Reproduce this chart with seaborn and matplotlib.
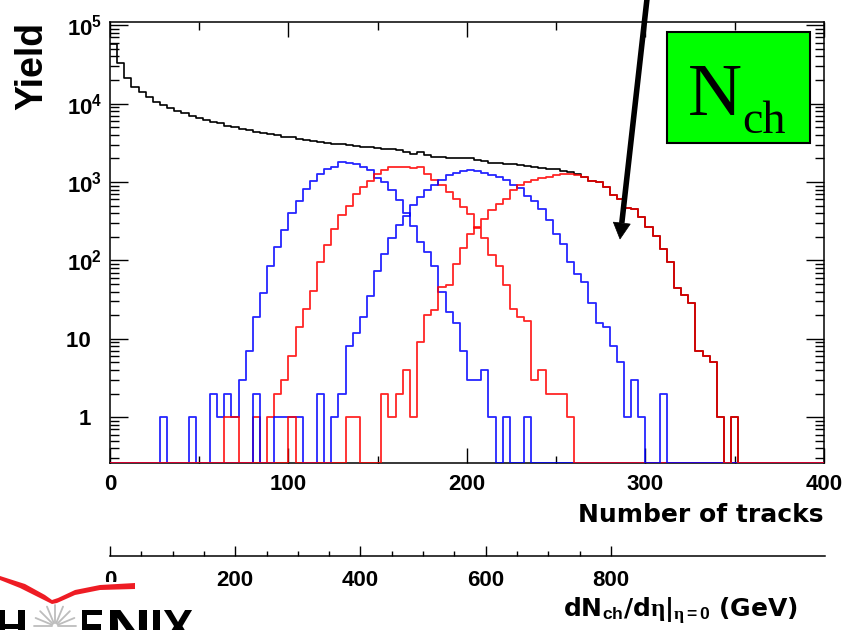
import numpy as np
import pandas as pd
import matplotlib
matplotlib.use("Agg")
import matplotlib.pyplot as plt
import seaborn as sns
from matplotlib.ticker import FixedLocator, FixedFormatter, NullFormatter, LogLocator
from matplotlib.patches import Rectangle, Polygon, PathPatch
from matplotlib.textpath import TextPath
from matplotlib.font_manager import FontProperties
from matplotlib.transforms import Affine2D

# ---------------- data ----------------
bin_edges = list(np.linspace(0, 400, 101))   # 100 bins, width 4 tracks

black_total = [57600, 32600, 21000, 16400, 14200, 12200, 10500, 9570, 8700, 8100,
               7500, 6900, 6460, 6160, 5870, 5600, 5160, 4970, 4770, 4580,
               4360, 4170, 4050, 3930, 3770, 3770, 3520, 3400, 3300, 3200,
               3150, 3080, 3040, 2980, 2890, 2800, 2760, 2680, 2650, 2620,
               2530, 2390, 2280, 2390, 2200, 2110, 2070, 2030, 2030, 1995,
               2010, 1930, 1840, 1770, 1750, 1720, 1690, 1640, 1600, 1550,
               1510, 1470, 1445, 1400, 1350, 1260, 1170, 1033, 1000, 865,
               678, 603, 472, 450, 358, 267, 203, 141, 95, 44,
               36, 29, 7, 6, 5, 1, 0, 1, 0, 0,
               0, 0, 0, 0, 0, 0, 0, 0, 0, 0]

blue_1 = [0, 0, 0, 0, 0, 0, 0, 1, 0, 0,
          0, 1, 0, 0, 2, 1, 2, 1, 3, 7,
          19, 38, 84, 148, 242, 408, 569, 809, 1024, 1247,
          1456, 1565, 1774, 1760, 1722, 1565, 1415, 1141, 1000, 786,
          586, 408, 272, 172, 128, 86, 40, 22, 16, 7,
          3, 3, 4, 1, 0, 1, 0, 0, 1, 0,
          0, 0, 0, 0, 0, 0, 0, 0, 0, 0,
          0, 0, 0, 0, 0, 0, 0, 0, 0, 0,
          0, 0, 0, 0, 0, 0, 0, 0, 0, 0,
          0, 0, 0, 0, 0, 0, 0, 0, 0, 0]

red_2 = [0, 0, 0, 0, 0, 0, 0, 0, 0, 0,
         0, 0, 0, 0, 0, 0, 1, 1, 0, 0,
         1, 0, 1, 2, 3, 6, 14, 24, 41, 95,
         159, 250, 377, 490, 713, 865, 1024, 1283, 1414, 1560,
         1560, 1560, 1487, 1560, 1259, 1055, 910, 735, 615, 482,
         396, 262, 193, 116, 86, 48, 24, 19, 17, 3,
         4, 2, 2, 2, 1, 0, 0, 0, 0, 0,
         0, 0, 0, 0, 0, 0, 0, 0, 0, 0,
         0, 0, 0, 0, 0, 0, 0, 0, 0, 0,
         0, 0, 0, 0, 0, 0, 0, 0, 0, 0]

blue_3 = [0, 0, 0, 0, 0, 0, 0, 0, 0, 0,
          0, 0, 0, 0, 0, 0, 0, 0, 0, 0,
          2, 0, 0, 1, 1, 1, 1, 0, 0, 2,
          0, 1, 2, 8, 12, 19, 35, 73, 120, 195,
          281, 366, 516, 646, 786, 910, 1055, 1222, 1307, 1380,
          1414, 1390, 1300, 1245, 1162, 1055, 910, 850, 670, 570,
          450, 325, 220, 164, 95, 68, 53, 29, 16, 14,
          8, 5, 1, 3, 1, 0, 0, 2, 0, 0,
          0, 0, 0, 0, 0, 0, 0, 0, 0, 0,
          0, 0, 0, 0, 0, 0, 0, 0, 0, 0]

red_4 = [0, 0, 0, 0, 0, 0, 0, 0, 0, 0,
         0, 0, 0, 0, 0, 0, 0, 0, 0, 0,
         0, 0, 0, 0, 0, 1, 0, 0, 0, 0,
         0, 0, 0, 1, 1, 0, 0, 0, 2, 1,
         2, 4, 1, 9, 20, 23, 46, 48, 91, 144,
         220, 265, 342, 437, 531, 615, 786, 910, 1000, 1055,
         1109, 1162, 1222, 1283, 1283, 1245, 1162, 1033, 1000, 865,
         678, 603, 472, 450, 358, 267, 203, 141, 95, 44,
         36, 29, 7, 6, 5, 1, 0, 1, 0, 0,
         0, 0, 0, 0, 0, 0, 0, 0, 0, 0]

x_ticks = [0, 100, 200, 300, 400]
x_minor = [50, 150, 250, 350]
y_ticks = [1, 10, 100, 1000, 10000, 100000]
y_ticklabels = ['1\u2002', '10\u2002', r'$\mathbf{10^{2}}$', r'$\mathbf{10^{3}}$',
                r'$\mathbf{10^{4}}$', r'$\mathbf{10^{5}}$']
dn_ticks = [0, 200, 400, 600, 800]
dn_minor = [50, 100, 150, 250, 300, 350, 450, 500, 550, 650, 700, 750]

# ---------------- style ----------------
sns.set_theme(style="ticks")
plt.rcParams['font.family'] = ['Liberation Sans', 'DejaVu Sans']
plt.rcParams['font.weight'] = 'bold'
plt.rcParams['mathtext.fontset'] = 'custom'
plt.rcParams['mathtext.rm'] = 'Liberation Serif'
plt.rcParams['mathtext.it'] = 'Liberation Serif:italic'
plt.rcParams['mathtext.bf'] = 'Liberation Sans:bold'
for k in ['axes.edgecolor', 'xtick.color', 'ytick.color', 'text.color', 'axes.labelcolor']:
    plt.rcParams[k] = 'black'

W, H = 845, 630
fig = plt.figure(figsize=(W / 100, H / 100), dpi=100)
fig.patch.set_facecolor('white')
ax = fig.add_axes([110 / W, 1 - 463 / H, 714 / W, (463 - 22) / H])
ax.set_facecolor('white')

YMIN, YMAX = 0.26, 1.1e5
edges_arr = np.asarray(bin_edges)
centers = (edges_arr[:-1] + edges_arr[1:]) / 2


def draw(vals, color, alpha, lw, z):
    v = np.asarray(vals, dtype=float)
    v = np.where(v > 0, v, YMIN)
    df = pd.DataFrame({'tracks': centers, 'yield': v})
    sns.histplot(data=df, x='tracks', weights='yield', bins=bin_edges, element='step',
                 fill=False, color=color, alpha=alpha, linewidth=lw, ax=ax, zorder=z)


draw(black_total, 'black', 1.0, 1.2, 2)
draw(blue_1, '#0000ff', 0.85, 1.3, 3)
draw(red_2, '#ff0000', 0.85, 1.3, 3)
draw(blue_3, '#0000ff', 0.85, 1.3, 3)
draw(red_4, '#ff0000', 0.85, 1.3, 3)

ax.set_xlim(0, 400)
ax.set_yscale('log')
ax.set_ylim(YMIN, YMAX)
ax.xaxis.set_major_locator(FixedLocator(x_ticks))
ax.xaxis.set_major_formatter(FixedFormatter([str(t) for t in x_ticks]))
ax.xaxis.set_minor_locator(FixedLocator(x_minor))
ax.yaxis.set_major_locator(FixedLocator(y_ticks))
ax.yaxis.set_major_formatter(FixedFormatter(y_ticklabels))
ax.yaxis.set_minor_locator(LogLocator(base=10, subs=np.arange(2, 10), numticks=20))
ax.yaxis.set_minor_formatter(NullFormatter())
ax.tick_params(which='both', direction='in', top=True, right=True, width=1.0)
ax.tick_params(axis='y', which='major', length=12.7, pad=5.5, labelsize=16)
ax.tick_params(axis='y', which='minor', length=6.7)
ax.tick_params(axis='x', which='major', length=10.8, pad=8, labelsize=16)
ax.tick_params(axis='x', which='minor', length=5.4)
for s in ax.spines.values():
    s.set_linewidth(1.1)
    s.set_color('black')

ax.set_ylabel('Yield', fontsize=27, fontweight='bold', loc='top')
ax.yaxis.set_label_coords(-0.084, 1.0)
ax.set_xlabel('Number of tracks', fontsize=18, fontweight='bold', loc='right',
              family='DejaVu Sans', labelpad=6)

# ---------------- secondary dNch/deta axis ----------------
ax2 = fig.add_axes([110 / W, 1 - 556 / H, 715 / W, 1e-4])
ax2.set_xlim(0, 1142)
ax2.set_yticks([])
for s in ['left', 'right', 'top']:
    ax2.spines[s].set_visible(False)
ax2.spines['bottom'].set_linewidth(1.1)
ax2.spines['bottom'].set_color('black')
ax2.patch.set_visible(False)
ax2.xaxis.set_major_locator(FixedLocator(dn_ticks))
ax2.xaxis.set_major_formatter(FixedFormatter([str(t) for t in dn_ticks]))
ax2.xaxis.set_minor_locator(FixedLocator(dn_minor))
ax2.tick_params(axis='x', which='major', direction='in', length=7.2, pad=10,
                labelsize=16, width=1.0)
ax2.tick_params(axis='x', which='minor', direction='in', length=3.6, width=1.0)

fig.text(798 / W, 1 - 617 / H,
         r'dN$_{\mathbf{ch}}$/d$\mathrm{\eta}$|$_{\mathrm{\eta}\mathbf{=0}}$ (GeV)',
         ha='right', va='baseline', fontsize=18, family='DejaVu Sans', weight='bold')

# ---------------- overlay: box, arrow, logo ----------------
ov = fig.add_axes([0, 0, 1, 1], zorder=10)
ov.set_xlim(0, W)
ov.set_ylim(H, 0)
ov.axis('off')
ov.patch.set_alpha(0)

ov.add_patch(Rectangle((667, 32), 143, 111, facecolor='#00ff00', edgecolor='black', lw=1.5))
ov.text(688, 115, 'N', fontsize=54, family='Liberation Serif', weight='normal', va='baseline')
ov.text(742, 133, 'ch', fontsize=33, family='Liberation Serif', weight='normal', va='baseline')

tip = np.array([620.0, 239.0])
tail = np.array([648.0, -10.0])
d = (tip - tail) / np.linalg.norm(tip - tail)
n = np.array([d[1], -d[0]])
base = tip - 16 * d
ov.plot([tail[0], base[0]], [tail[1], base[1]], color='black', lw=4.0,
        solid_capstyle='butt', clip_on=False)
ov.add_patch(Polygon([tip, base + 8.5 * n, base - 8.5 * n], closed=True,
                     facecolor='black', edgecolor='black', lw=0.5))

# PHENIX logo artwork (an image in the reference, cut off at the lower-left corner)
ov.add_patch(Rectangle((0, 582), 200, 50, facecolor='white', edgecolor='none', zorder=1))
swoosh = [(0, 576), (25, 584), (45, 595), (52, 600), (58, 598), (75, 590), (100, 585),
          (135, 583), (135, 589), (100, 590), (75, 595), (57, 603), (52, 604),
          (40, 598), (20, 588), (0, 580)]
ov.add_patch(Polygon(swoosh, closed=True, facecolor='#ee1c24', edgecolor='none', zorder=2))
c = np.array([55.0, 626.0])
for ang in np.linspace(np.pi, 2 * np.pi, 9):
    r0, r1 = 3, 21
    ov.plot([c[0] + r0 * np.cos(ang), c[0] + r1 * np.cos(ang)],
            [c[1] + r0 * np.sin(ang), c[1] + r1 * np.sin(ang)],
            color='#bdbdbd', lw=1.3, zorder=2)

logo_font = FontProperties(family='Liberation Sans', weight='bold')


def logo_letter(ch, x0, x1, top, cap_h):
    tp = TextPath((0, 0), ch, size=100, prop=logo_font)
    bb = tp.get_extents()
    sx = (x1 - x0) / bb.width
    sy = cap_h / bb.height
    tr = Affine2D().translate(-bb.x0, -bb.y1).scale(sx, -sy).translate(x0, top)
    ov.add_patch(PathPatch(tr.transform_path(tp), facecolor='black', edgecolor='none',
                           zorder=3))


for ch, x0, x1 in [('H', -2, 25), ('E', 82, 103), ('N', 110, 147), ('I', 153, 160),
                   ('X', 163, 193)]:
    logo_letter(ch, x0, x1, 610, 34)

fig.savefig('out.png', dpi=100, facecolor='white')
